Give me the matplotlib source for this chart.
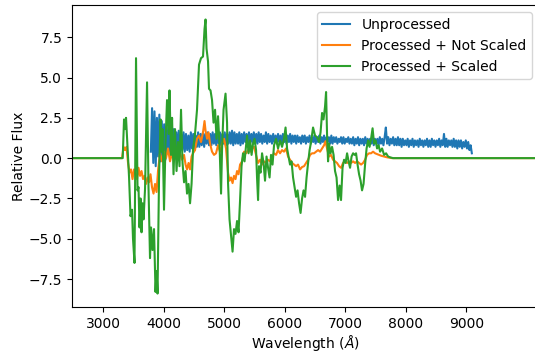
import matplotlib
matplotlib.use("Agg")
import matplotlib.pyplot as plt
import numpy as np

# Unprocessed spectrum (regular 20 A grid from 3790 to 9090)
blue_start, blue_stop = 3790, 9090
blue_flux = [
    0.4, 3.1, -0.3, 2.9, -0.5, 2.5, 0.1, 2.7, -0.2, 2.3,
    0.0, 2.1, -0.1, 1.9, 0.3, 2.0, 0.2, 1.7, 0.1, 1.8,
    0.3, 1.6, 0.4, 1.7, 0.2, 1.5, 0.5, 1.6, 0.4, 1.5,
    0.5, 1.4, 0.4, 1.6, 0.6, 1.5, 0.5, 1.4, 0.7, 1.6,
    0.7, 1.5, 0.8, 1.6, 0.7, 1.5, 0.9, 1.6, 0.8, 1.5,
    0.8, 1.6, 0.9, 1.5, 0.8, 1.7, 0.9, 1.6, 0.8, 1.5,
    0.9, 1.6, 0.8, 1.5, 0.9, 1.6, 0.9, 1.7, 0.8, 1.6,
    0.9, 1.5, 0.9, 1.6, 0.8, 1.5, 0.9, 1.6, 1.0, 1.5,
    0.9, 1.6, 0.9, 1.5, 1.0, 1.6, 0.9, 1.5, 0.9, 1.6,
    1.0, 1.5, 0.9, 1.4, 1.0, 1.6, 0.9, 1.5, 1.0, 1.4,
    0.9, 1.5, 1.0, 1.4, 0.9, 1.5, 1.0, 1.4, 0.9, 1.5,
    1.0, 1.4, 0.9, 1.4, 1.0, 1.5, 0.9, 1.4, 1.0, 1.4,
    0.9, 1.4, 1.0, 1.3, 0.9, 1.4, 1.0, 1.4, 0.9, 1.3,
    1.0, 1.4, 0.9, 1.3, 1.0, 1.4, 0.9, 1.3, 1.0, 1.4,
    0.9, 1.3, 1.0, 1.4, 0.9, 1.3, 1.0, 1.3, 0.9, 1.4,
    0.9, 1.3, 1.0, 1.3, 0.9, 1.2, 1.0, 1.3, 0.9, 1.3,
    0.9, 1.2, 1.0, 1.3, 0.9, 1.2, 0.9, 1.3, 0.8, 1.2,
    0.9, 1.3, 0.8, 1.2, 0.9, 1.2, 0.8, 1.3, 0.9, 1.2,
    0.8, 1.2, 0.9, 1.3, 0.8, 1.2, 0.9, 1.2, 0.8, 1.3,
    0.9, 1.2, 0.8, 1.3, 1.9, 0.9, 1.3, 0.8, 1.2, 0.9,
    1.3, 0.8, 1.2, 0.8, 1.3, 0.8, 1.2, 0.7, 1.2, 0.8,
    1.1, 0.8, 1.2, 0.7, 1.1, 0.8, 1.2, 0.7, 1.1, 0.8,
    1.1, 0.7, 1.2, 0.8, 1.1, 0.7, 1.1, 0.8, 1.2, 0.7,
    1.1, 0.7, 1.2, 0.8, 1.1, 0.7, 1.1, 0.8, 1.2, 0.7,
    1.1, 0.8, 1.5, 0.7, 1.2, 0.7, 1.1, 0.8, 1.1, 0.7,
    1.2, 0.7, 1.1, 0.6, 1.1, 0.7, 1.1, 0.6, 1.0, 0.7,
    1.1, 0.6, 1.0, 0.5, 0.8, 0.3,
]
blue_wave = np.linspace(blue_start, blue_stop, len(blue_flux))

# Processed + Not Scaled
orange_wave = [2400, 3314, 3339, 3363, 3388, 3413, 3438, 3462, 3487, 3512, 3537,
               3562, 3586, 3611, 3636, 3661, 3685, 3710, 3735, 3760, 3784, 3809,
               3834, 3859, 3884, 3908, 3941, 3974, 4007, 4040, 4073, 4106, 4140,
               4173, 4206, 4239, 4272, 4305, 4338, 4363, 4387, 4412, 4437, 4462,
               4486, 4519, 4552, 4585, 4618, 4651, 4676, 4693, 4718, 4742, 4767,
               4800, 4833, 4866, 4899, 4932, 4965, 4998, 5031, 5064, 5089, 5114,
               5139, 5163, 5188, 5213, 5238, 5263, 5296, 5329, 5362, 5395, 5428,
               5461, 5494, 5527, 5560, 5593, 5626, 5659, 5692, 5725, 5758, 5791,
               5824, 5857, 5890, 5923, 5956, 5989, 6022, 6055, 6088, 6121, 6154,
               6188, 6220, 6254, 6287, 6320, 6353, 6386, 6419, 6452, 6485, 6518,
               6551, 6584, 6617, 6650, 6674, 6699, 6732, 6765, 6798, 6831, 6864,
               6898, 6930, 6963, 6997, 7030, 7063, 7096, 7129, 7162, 7195, 7228,
               7261, 7294, 7327, 7360, 7393, 7426, 7459, 7492, 7525, 7558, 7591,
               7641, 7691, 7773, 10500]
orange_flux = [0, 0, 0.7, 0.5, 0.7, -0.3, -0.9, -0.7, -1.3, -0.7, -1.0,
               -1.3, -0.6, -1.1, -0.8, -1.3, -1.1, -1.6, -1.2, -1.5, -1.0, -1.8,
               -2.2, -1.6, -2.1, -0.8, 0.3, -0.2, 0.4, 0.0, 0.6, -0.2, 0.3,
               -0.1, 0.4, 0.1, 0.3, -0.1, 0.2, -0.4, -0.7, -0.3, -0.7, 0.1,
               0.3, 0.5, 1.2, 1.4, 1.0, 1.6, 2.3, 1.7, 1.2, 1.6, 0.9,
               0.4, 0.2, 0.3, 0.8, 0.4, 0.9, 1.2, 0.6, -0.9, -1.4, -1.2,
               -1.55, -1.1, -1.3, -0.8, -1.0, -0.4, -0.2, 0.4, 0.3, 0.5, 0.4,
               0.6, 0.7, 0.2, -0.3, -0.1, -0.4, -0.2, -0.3, -0.1, -0.2, 0.1,
               0.3, 0.2, 0.5, 0.3, 0.5, 0.4, 0.6, 0.1, -0.1, -0.3, -0.4,
               -0.5, -0.4, -0.7, -0.55, -0.5, -0.3, -0.1, 0.2, 0.3, 0.3, 0.4,
               0.5, 0.4, 0.6, 0.8, 1.05, 0.6, 0.1, 0.2, -0.1, -0.2, -0.3,
               -0.5, -0.6, -0.3, -0.2, -0.3, -0.2, -0.3, -0.2, -0.3, -0.2, -0.3,
               -0.4, -0.3, -0.1, 0.2, 0.3, 0.3, 0.4, 0.3, 0.25, 0.2, 0.15,
               0.1, 0.05, 0.0, 0.0]

# Processed + Scaled
green_wave = [2400, 3297, 3325, 3347, 3363, 3380, 3405, 3430, 3454, 3479, 3495,
              3520, 3545, 3570, 3586, 3603, 3619, 3636, 3652, 3669, 3694, 3727,
              3751, 3776, 3793, 3817, 3842, 3867, 3884, 3900, 3925, 3950, 3966,
              3983, 4007, 4032, 4057, 4082, 4098, 4123, 4140, 4164, 4189, 4214,
              4239, 4263, 4288, 4313, 4338, 4363, 4387, 4412, 4437, 4462, 4486,
              4519, 4552, 4585, 4618, 4651, 4676, 4693, 4709, 4734, 4750, 4775,
              4800, 4825, 4850, 4874, 4899, 4924, 4949, 4965, 4990, 5023, 5048,
              5064, 5089, 5114, 5139, 5163, 5188, 5213, 5238, 5263, 5287, 5312,
              5337, 5362, 5378, 5403, 5428, 5453, 5477, 5502, 5527, 5543, 5560,
              5576, 5601, 5626, 5651, 5675, 5700, 5725, 5750, 5774, 5799, 5824,
              5857, 5890, 5923, 5956, 5989, 6014, 6039, 6063, 6088, 6113, 6138,
              6163, 6188, 6212, 6237, 6262, 6287, 6311, 6336, 6361, 6386, 6411,
              6435, 6468, 6501, 6534, 6567, 6592, 6617, 6641, 6666, 6683, 6699,
              6716, 6732, 6757, 6782, 6807, 6831, 6856, 6881, 6906, 6930, 6955,
              6980, 7005, 7030, 7055, 7079, 7104, 7129, 7154, 7178, 7203, 7228,
              7253, 7277, 7302, 7327, 7352, 7377, 7401, 7426, 7451, 7476, 7501,
              7525, 7550, 7575, 7608, 7641, 7674, 7707, 7740, 7789, 10500]
green_flux = [0, 0, 0, 2.4, 1.8, 2.5, 0.6, -1.2, -3.6, -3.2, -5.0,
              -6.5, 6.2, -2.0, -1.8, -4.3, -2.5, -4.6, -2.8, -3.8, -1.9, 4.7,
              -1.8, -6.2, -4.3, -5.7, -4.4, -8.3, -7.0, -8.4, -1.2, 2.4, 0.4,
              1.8, -3.2, 1.0, 3.6, 1.5, 4.2, 0.2, 2.5, -1.0, 1.8, -0.8,
              1.0, -0.5, 3.0, -0.3, -1.5, -0.8, -2.2, -1.6, -2.8, -1.6, 0.5,
              1.5, 3.0, 5.8, 6.2, 6.3, 8.0, 8.6, 6.8, 6.0, 4.3, 4.2,
              3.6, 2.2, 3.0, 1.2, 2.6, 0.8, -2.2, 0.5, 3.0, 4.0, 2.2,
              -1.5, -3.8, -4.8, -5.8, -4.4, -4.7, -3.9, -4.6, -2.6, -0.5, 0.3,
              -0.2, 0.8, 1.4, 0.3, 1.1, 0.2, 0.9, 1.2, 0.5, -1.2, -2.6,
              -0.5, -0.9, 0.3, -0.3, -1.4, 0.1, -0.6, -1.2, 0.2, -0.4, 0.8,
              1.2, 0.6, 1.1, 0.7, 1.2, 1.9, 0.6, 0.1, -0.4, -0.2, -1.2,
              -1.8, -2.4, -2.0, -2.8, -3.4, -2.5, -2.0, -2.4, -1.2, -0.3, 0.5,
              1.0, 1.9, 1.4, 1.3, 1.0, 1.6, 2.8, 2.4, 3.2, 4.1, 1.5,
              -0.2, 0.9, 0.3, 0.7, 0.2, -0.8, -1.2, -2.6, -1.7, -2.6, -0.6,
              -0.1, -0.3, 0.3, -0.2, -0.6, 0.1, 0.3, 0.2, 0.3, -0.4, -1.0,
              -1.4, -2.0, -1.6, -0.4, 0.6, 1.1, 0.7, 1.2, 1.85, 0.9, 1.1,
              0.6, 0.8, 0.4, 0.6, 0.2, 0.3, 0.1, 0.05, 0.0, 0.0]

fig = plt.figure(figsize=(5.35, 3.53), dpi=100)
ax = fig.add_axes([0.1346, 0.130, 0.873, 0.8555])

ax.plot(blue_wave, blue_flux, label="Unprocessed")
ax.plot(orange_wave, orange_flux, label="Processed + Not Scaled")
ax.plot(green_wave, green_flux, label="Processed + Scaled")

ax.set_xlim(2488, 10200)
ax.set_ylim(-9.24, 9.49)
ax.set_xticks([3000, 4000, 5000, 6000, 7000, 8000, 9000])
ax.set_yticks([-7.5, -5.0, -2.5, 0.0, 2.5, 5.0, 7.5])
ax.set_xlabel(r"Wavelength ($\AA$)", labelpad=1.5)
ax.set_ylabel("Relative Flux", labelpad=2)
ax.legend(loc="upper right")

fig.savefig("out.png", dpi=100)
